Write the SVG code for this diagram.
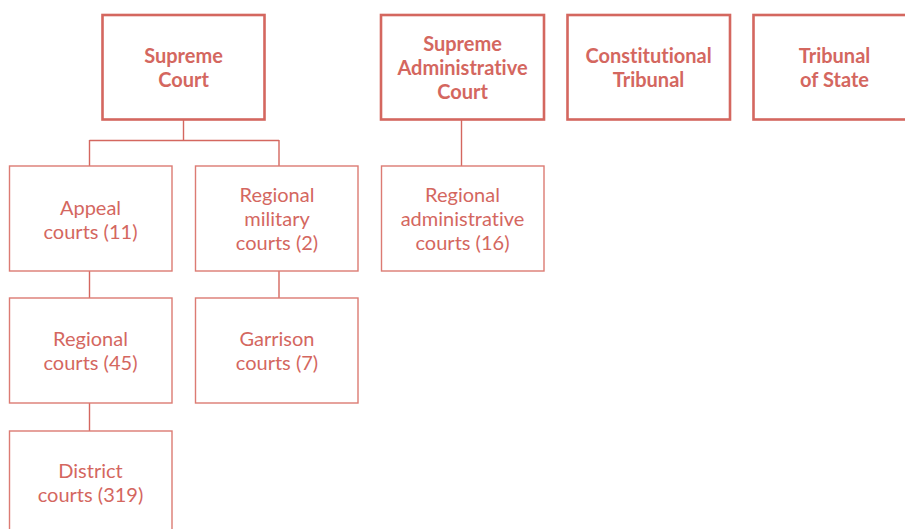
<svg xmlns="http://www.w3.org/2000/svg" width="905" height="529" viewBox="0 0 905 529">
<style>
.top{fill:#ffffff;stroke:#d4675f;stroke-width:2.6}
.box{fill:#ffffff;stroke:#dc7b73;stroke-width:1.4}
.ln{fill:none;stroke:#d4675f;stroke-width:1.4}
text{font-family:Lato,"Liberation Sans",sans-serif;font-size:20px;fill:#d4675f;text-anchor:middle;font-variant-ligatures:none;font-feature-settings:"liga" 0}
.b{font-weight:bold}
</style>
<rect width="905" height="529" fill="#ffffff"/>
<g id="connectors">
<path class="ln" d="M183.5 120V140.5M89.5 140.5H279M89.5 140V166M279 140V166"/>
<path class="ln" d="M89.5 271V298M89.5 403V431"/>
<path class="ln" d="M279 271V298"/>
<path class="ln" d="M461.5 120V166"/>
</g>
<g id="supreme-court">
<rect class="top" x="102.5" y="15" width="162" height="104.5"/>
<text class="b" x="183.5" y="63">Supreme</text>
<text class="b" x="183.5" y="87">Court</text>
</g>
<g id="supreme-administrative-court">
<rect class="top" x="381" y="15" width="163" height="104.5"/>
<text class="b" x="462.5" y="51">Supreme</text>
<text class="b" x="462.5" y="75">Administrative</text>
<text class="b" x="462.5" y="99">Court</text>
</g>
<g id="constitutional-tribunal">
<rect class="top" x="567.5" y="15" width="162.5" height="104.5"/>
<text class="b" x="648.5" y="63">Constitutional</text>
<text class="b" x="648.5" y="87">Tribunal</text>
</g>
<g id="tribunal-of-state">
<rect class="top" x="753.5" y="15" width="165" height="104.5"/>
<text class="b" x="834.5" y="63">Tribunal</text>
<text class="b" x="834.5" y="87">of State</text>
</g>
<g id="appeal-courts">
<rect class="box" x="9.5" y="166" width="162.5" height="105"/>
<text x="90.5" y="215">Appeal</text>
<text x="90.5" y="239">courts (11)</text>
</g>
<g id="regional-military-courts">
<rect class="box" x="195.5" y="166" width="162.5" height="105"/>
<text x="277" y="202">Regional</text>
<text x="277" y="226">military</text>
<text x="277" y="250">courts (2)</text>
</g>
<g id="regional-administrative-courts">
<rect class="box" x="381.5" y="166" width="162.5" height="105"/>
<text x="462.5" y="202">Regional</text>
<text x="462.5" y="226">administrative</text>
<text x="462.5" y="250">courts (16)</text>
</g>
<g id="regional-courts">
<rect class="box" x="9.5" y="298" width="162.5" height="105"/>
<text x="90.5" y="346">Regional</text>
<text x="90.5" y="370">courts (45)</text>
</g>
<g id="garrison-courts">
<rect class="box" x="195.5" y="298" width="162.5" height="105"/>
<text x="277" y="346">Garrison</text>
<text x="277" y="370">courts (7)</text>
</g>
<g id="district-courts">
<rect class="box" x="9.5" y="431" width="162.5" height="105"/>
<text x="90.5" y="478">District</text>
<text x="90.5" y="502">courts (319)</text>
</g>
</svg>
